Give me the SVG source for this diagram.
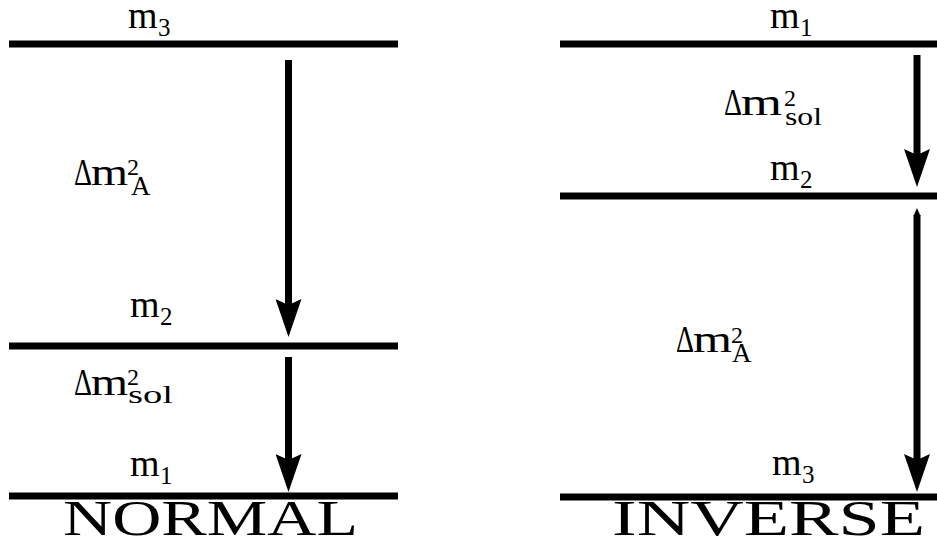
<svg xmlns="http://www.w3.org/2000/svg" width="937" height="545" viewBox="0 0 937 545">
<style>
text{font-family:"Liberation Serif","Times New Roman",serif;fill:#000}
.m{font-size:38px}
.sub{font-size:25px}
.sup{font-size:24px}
.dl{font-size:38px}
.sA{font-size:27px}
.sol{font-size:25px}
.big{font-size:50px}
.lvl{stroke:#000;stroke-width:7;fill:none}
.arr{stroke:#000;stroke-width:7;fill:none;marker-end:url(#ah)}
</style>
<defs>
<marker id="ah" markerUnits="userSpaceOnUse" viewBox="0 0 38 26" markerWidth="38" markerHeight="26" refX="13" refY="13" orient="auto">
<path d="M0,0 L38,13 L0,26 L6,13 Z" fill="#000"/>
</marker>
</defs>
<rect width="937" height="545" fill="#fff"/>

<g id="normal-m3">
<line class="lvl" x1="9" y1="44" x2="398" y2="44"/>
<text class="m" x="128" y="28">m</text><text class="sub" x="158" y="36">3</text>
</g>
<g id="normal-m2">
<line class="lvl" x1="9" y1="346" x2="398" y2="346"/>
<text class="m" x="130" y="317">m</text><text class="sub" x="160" y="325">2</text>
</g>
<g id="normal-m1">
<line class="lvl" x1="9" y1="496" x2="398" y2="496"/>
<text class="m" x="130" y="476">m</text><text class="sub" x="160" y="484">1</text>
</g>
<g id="normal-dmA">
<text class="dl" x="74" y="185" textLength="18" lengthAdjust="spacingAndGlyphs">Δ</text>
<text class="m" x="91" y="185" textLength="37" lengthAdjust="spacingAndGlyphs">m</text>
<text class="sup" x="127" y="175">2</text>
<text class="sA" x="131" y="195">A</text>
</g>
<g id="normal-dmsol">
<text class="dl" x="74" y="395" textLength="18" lengthAdjust="spacingAndGlyphs">Δ</text>
<text class="m" x="91" y="395" textLength="37" lengthAdjust="spacingAndGlyphs">m</text>
<text class="sup" x="127" y="385">2</text>
<text class="sol" x="128" y="403" textLength="45" lengthAdjust="spacingAndGlyphs">sol</text>
</g>
<g id="normal-title">
<text class="big" x="63" y="535" textLength="295" lengthAdjust="spacingAndGlyphs">NORMAL</text>
</g>

<g id="inverse-m1">
<line class="lvl" x1="560" y1="44" x2="937" y2="44"/>
<text class="m" x="770" y="28">m</text><text class="sub" x="800" y="36">1</text>
</g>
<g id="inverse-m2">
<line class="lvl" x1="560" y1="196" x2="937" y2="196"/>
<text class="m" x="770" y="180">m</text><text class="sub" x="800" y="188">2</text>
</g>
<g id="inverse-m3">
<line class="lvl" x1="560" y1="497" x2="937" y2="497"/>
<text class="m" x="772" y="475">m</text><text class="sub" x="802" y="483">3</text>
</g>
<g id="inverse-dmsol">
<text class="dl" x="724" y="115" textLength="18" lengthAdjust="spacingAndGlyphs">Δ</text>
<text class="m" x="741" y="115" textLength="41" lengthAdjust="spacingAndGlyphs">m</text>
<text class="sup" x="784" y="106">2</text>
<text class="sol" x="785" y="125" textLength="37" lengthAdjust="spacingAndGlyphs">sol</text>
</g>
<g id="inverse-dmA">
<text class="dl" x="676" y="352" textLength="18" lengthAdjust="spacingAndGlyphs">Δ</text>
<text class="m" x="693" y="352" textLength="39" lengthAdjust="spacingAndGlyphs">m</text>
<text class="sup" x="731" y="343">2</text>
<text class="sA" x="732" y="362">A</text>
</g>
<g id="inverse-title">
<text class="big" x="612" y="535" textLength="313" lengthAdjust="spacingAndGlyphs">INVERSE</text>
</g>

<g id="connectors">
<line class="arr" x1="288.5" y1="60" x2="288.5" y2="312"/>
<line class="arr" x1="288.5" y1="357" x2="288.5" y2="467"/>
<line class="arr" x1="917" y1="55" x2="917" y2="162"/>
<line class="arr" x1="917" y1="215" x2="917" y2="467"/>
<polygon points="917,208 920.5,216 913.5,216" fill="#000"/>
</g>
</svg>
